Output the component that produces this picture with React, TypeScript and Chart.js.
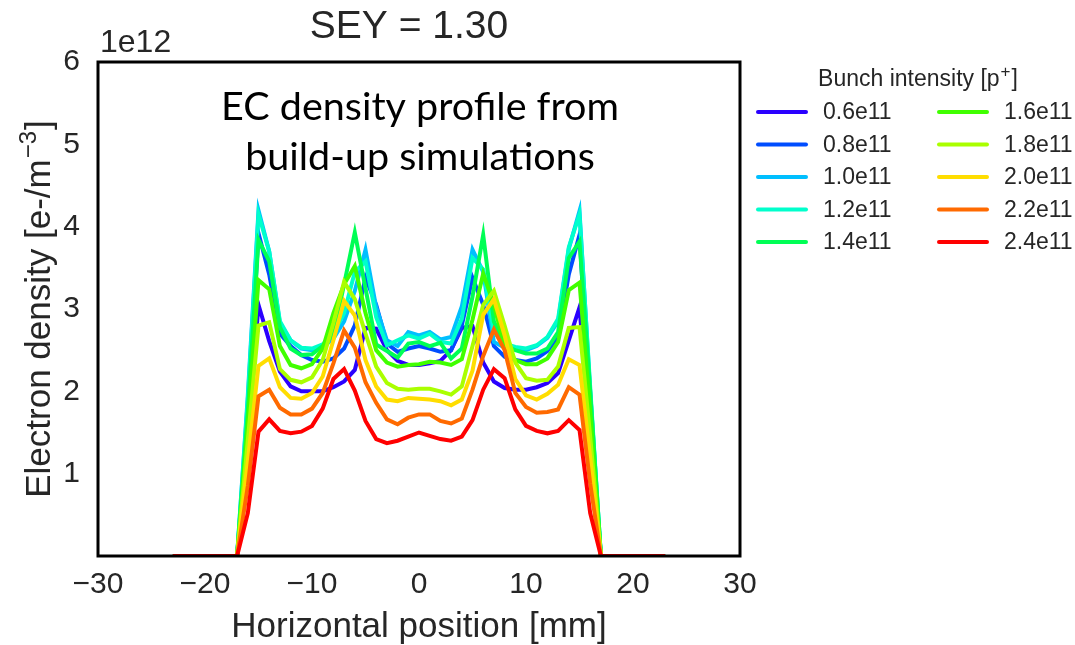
import React, { useEffect, useRef } from "react";
import { Chart, registerables } from "chart.js";

Chart.register(...registerables);

// Horizontal position [mm]
const xPositions = [
  -23, -22, -21, -20, -19, -18, -17, -16, -15, -14, -13, -12, -11, -10, -9, -8,
  -7, -6, -5, -4, -3, -2, -1, 0, 1, 2, 3, 4, 5, 6, 7, 8, 9, 10, 11, 12, 13, 14,
  15, 16, 17, 18, 19, 20, 21, 22, 23,
];

const intensityLabels = [
  "0.6e11", "0.8e11", "1.0e11", "1.2e11", "1.4e11",
  "1.6e11", "1.8e11", "2.0e11", "2.2e11", "2.4e11",
];

const seriesColors = [
  "#2a00ff", "#004dff", "#00bfff", "#00ffcc", "#00ff55",
  "#40ff00", "#aaff00", "#ffdd00", "#ff6a00", "#ff0000",
];

// Electron density, units of 1e12 e-/m^3
const density06 = [
  0, 0, 0, 0, 0, 0, 0, 1.4, 3.05, 2.61, 2.24, 2.06, 2.0, 2.0, 2.0, 2.05,
  2.12, 2.26, 2.77, 2.76, 2.5, 2.37, 2.32, 2.32, 2.34, 2.37, 2.5, 2.77, 2.79, 2.35, 2.12, 2.04,
  2.02, 2.02, 2.05, 2.1, 2.22, 2.62, 3.02, 1.45, 0, 0, 0, 0, 0, 0, 0,
];
const density08 = [
  0, 0, 0, 0, 0, 0, 0, 1.7, 3.92, 3.42, 2.7, 2.55, 2.44, 2.38, 2.36, 2.4,
  2.52, 2.8, 3.38, 3.05, 2.58, 2.48, 2.52, 2.55, 2.52, 2.48, 2.5, 2.8, 3.38, 3.05, 2.55, 2.42,
  2.38, 2.36, 2.4, 2.49, 2.66, 3.42, 3.9, 1.75, 0, 0, 0, 0, 0, 0, 0,
];
const density10 = [
  0, 0, 0, 0, 0, 0, 0, 1.95, 4.2, 3.7, 2.83, 2.62, 2.52, 2.5, 2.54, 2.64,
  2.85, 3.22, 3.72, 3.02, 2.62, 2.55, 2.72, 2.68, 2.72, 2.63, 2.66, 3.03, 3.72, 3.45, 2.6, 2.53,
  2.51, 2.5, 2.55, 2.65, 2.85, 3.73, 4.19, 2.0, 0, 0, 0, 0, 0, 0, 0,
];
const density12 = [
  0, 0, 0, 0, 0, 0, 0, 1.9, 4.15, 3.7, 2.85, 2.62, 2.53, 2.52, 2.57, 2.7,
  2.95, 3.45, 3.58, 2.9, 2.56, 2.62, 2.68, 2.64, 2.7, 2.6, 2.58, 2.88, 3.62, 3.48, 2.72, 2.58,
  2.54, 2.52, 2.56, 2.66, 2.88, 3.75, 4.15, 2.05, 0, 0, 0, 0, 0, 0, 0,
];
const density14 = [
  0, 0, 0, 0, 0, 0, 0, 1.75, 3.84, 3.58, 2.78, 2.52, 2.44, 2.45, 2.55, 2.69,
  3.3, 3.93, 3.25, 2.57, 2.49, 2.41, 2.58, 2.6, 2.55, 2.59, 2.4, 2.52, 3.15, 3.9, 2.85, 2.55,
  2.5, 2.46, 2.46, 2.52, 2.72, 3.62, 3.82, 2.0, 0, 0, 0, 0, 0, 0, 0,
];
const density16 = [
  0, 0, 0, 0, 0, 0, 0, 1.6, 3.35, 3.24, 2.55, 2.32, 2.28, 2.33, 2.52, 2.95,
  3.3, 3.52, 2.95, 2.5, 2.35, 2.3, 2.32, 2.33, 2.36, 2.35, 2.32, 2.39, 2.87, 3.43, 3.05, 2.55,
  2.38, 2.33, 2.33, 2.4, 2.6, 3.23, 3.32, 1.75, 0, 0, 0, 0, 0, 0, 0,
];
const density18 = [
  0, 0, 0, 0, 0, 0, 0, 1.4, 2.8, 2.84, 2.27, 2.14, 2.11, 2.17, 2.38, 2.83,
  3.33, 3.12, 2.7, 2.3, 2.1, 2.03, 2.02, 2.03, 2.03, 2.0, 1.96, 2.06, 2.55, 3.05, 3.22, 2.8,
  2.35, 2.16, 2.13, 2.14, 2.3, 2.77, 2.78, 1.45, 0, 0, 0, 0, 0, 0, 0,
];
const density20 = [
  0, 0, 0, 0, 0, 0, 0, 1.15, 2.31, 2.4, 2.05, 1.92, 1.91, 1.98, 2.18, 2.62,
  3.1, 2.92, 2.38, 2.06, 1.9, 1.88, 1.92, 1.91, 1.9, 1.88, 1.83, 1.9, 2.25, 2.93, 3.12, 2.68,
  2.15, 1.95, 1.9, 1.97, 2.08, 2.39, 2.32, 1.2, 0, 0, 0, 0, 0, 0, 0,
];
const density22 = [
  0, 0, 0, 0, 0, 0, 0, 0.85, 1.94, 2.02, 1.8, 1.72, 1.72, 1.79, 1.98, 2.34,
  2.74, 2.53, 2.11, 1.86, 1.66, 1.6, 1.68, 1.72, 1.72, 1.64, 1.61, 1.67, 2.02, 2.43, 2.75, 2.5,
  1.98, 1.81, 1.74, 1.75, 1.78, 2.05, 1.96, 0.88, 0, 0, 0, 0, 0, 0, 0,
];
const density24 = [
  0, 0, 0, 0, 0, 0, 0, 0.52, 1.51, 1.66, 1.52, 1.49, 1.51, 1.58, 1.79, 2.15,
  2.27, 2.01, 1.64, 1.42, 1.37, 1.4, 1.45, 1.5, 1.46, 1.42, 1.4, 1.45, 1.65, 2.02, 2.27, 2.16,
  1.78, 1.58, 1.52, 1.49, 1.52, 1.65, 1.53, 0.52, 0, 0, 0, 0, 0, 0, 0,
];

const allSeries = [
  density06, density08, density10, density12, density14,
  density16, density18, density20, density22, density24,
];

const xTicks = [-30, -20, -10, 0, 10, 20, 30];
const yTicks = [1, 2, 3, 4, 5, 6];

const chartTitle = "SEY = 1.30";
const offsetText = "1e12";
const annotationLines = ["EC density profile from", "build-up simulations"];
const legendTitleMain = "Bunch intensity [p";
const legendTitleSup = "+";
const legendTitleEnd = "]";
const xTitle = "Horizontal position [mm]";
const yTitleMain = "Electron density [e-/m";
const yTitleSup = "\u22123";
const yTitleEnd = "]";

const AXIS_FONT = "'Liberation Sans', Arial, sans-serif";
const TEXT_COLOR = "#262626";

// draws "main^sup end" centred at (0,0) in the current transform
function drawSupText(ctx: any, main: string, sup: string, end: string, size: number, supSize: number, rise: number) {
  ctx.font = `${size}px ${AXIS_FONT}`;
  const wMain = ctx.measureText(main).width;
  const wEnd = ctx.measureText(end).width;
  ctx.font = `${supSize}px ${AXIS_FONT}`;
  const wSup = ctx.measureText(sup).width;
  const total = wMain + wSup + wEnd + 2;
  let x = -total / 2;
  ctx.textAlign = "left";
  ctx.textBaseline = "alphabetic";
  const base = size * 0.36;
  ctx.font = `${size}px ${AXIS_FONT}`;
  ctx.fillText(main, x, base);
  x += wMain + 1;
  ctx.font = `${supSize}px ${AXIS_FONT}`;
  ctx.fillText(sup, x, base - rise);
  x += wSup + 1;
  ctx.font = `${size}px ${AXIS_FONT}`;
  ctx.fillText(end, x, base);
}

const overlayPlugin = {
  id: "overlay",
  afterDatasetsDraw(chart: any) {
    const { ctx, chartArea } = chart;
    ctx.save();
    ctx.strokeStyle = "#000000";
    ctx.lineWidth = 3;
    ctx.strokeRect(chartArea.left, chartArea.top, chartArea.right - chartArea.left, chartArea.bottom - chartArea.top);
    ctx.restore();
  },
  afterDraw(chart: any) {
    const { ctx, chartArea } = chart;
    ctx.save();
    // title
    ctx.fillStyle = TEXT_COLOR;
    ctx.textAlign = "center";
    ctx.textBaseline = "middle";
    ctx.font = `39px ${AXIS_FONT}`;
    ctx.fillText(chartTitle, 409, 27);
    // offset text
    ctx.textAlign = "left";
    ctx.font = `32px ${AXIS_FONT}`;
    ctx.fillText(offsetText, chartArea.left + 2, 43);
    // annotation
    ctx.fillStyle = "#000000";
    ctx.textAlign = "center";
    ctx.font = `39.5px Lato, 'Open Sans', sans-serif`;
    ctx.fillText(annotationLines[0], 420, 107);
    ctx.fillText(annotationLines[1], 420, 157);
    // y axis title
    ctx.fillStyle = TEXT_COLOR;
    ctx.save();
    ctx.translate(37, (chartArea.top + chartArea.bottom) / 2);
    ctx.rotate(-Math.PI / 2);
    drawSupText(ctx, yTitleMain, yTitleSup, yTitleEnd, 35, 24, 14);
    ctx.restore();
    // legend title
    ctx.save();
    ctx.translate(918, 78);
    drawSupText(ctx, legendTitleMain, legendTitleSup, legendTitleEnd, 23, 17, 9);
    ctx.restore();
    // legend entries
    ctx.font = `23px ${AXIS_FONT}`;
    ctx.textAlign = "left";
    ctx.textBaseline = "middle";
    const colX = [758, 939];
    const textX = [823, 1004];
    for (let i = 0; i < intensityLabels.length; i++) {
      const col = Math.floor(i / 5);
      const row = i % 5;
      const y = 112 + row * 32.5;
      ctx.strokeStyle = seriesColors[i];
      ctx.lineWidth = 4;
      ctx.lineCap = "round";
      ctx.beginPath();
      ctx.moveTo(colX[col], y);
      ctx.lineTo(colX[col] + 48, y);
      ctx.stroke();
      ctx.fillStyle = TEXT_COLOR;
      ctx.fillText(intensityLabels[i], textX[col], y + 1);
    }
    ctx.restore();
  },
};

export default function App() {
  const canvasRef = useRef<HTMLCanvasElement | null>(null);

  useEffect(() => {
    const canvas = canvasRef.current;
    if (!canvas) return;
    const datasets = allSeries.map((series, i) => ({
      label: intensityLabels[i],
      data: xPositions.map((x, j) => ({ x, y: series[j] })),
      borderColor: seriesColors[i],
      backgroundColor: seriesColors[i],
      borderWidth: 4,
      pointRadius: 0,
      tension: 0,
      fill: false,
      order: intensityLabels.length - i,
    }));
    const chart = new Chart(canvas, {
      type: "line",
      data: { datasets },
      options: {
        responsive: false,
        animation: false,
        layout: { padding: { left: 0, top: 62, right: 335, bottom: 0 } },
        plugins: {
          legend: { display: false },
          title: { display: false },
          tooltip: { enabled: false },
        },
        scales: {
          x: {
            type: "linear",
            min: -30,
            max: 30,
            grid: { display: false },
            border: { display: false },
            afterBuildTicks: (scale: any) => {
              scale.ticks = xTicks.map((v) => ({ value: v }));
            },
            afterFit: (scale: any) => {
              scale.height = 89;
            },
            ticks: {
              padding: 3,
              color: TEXT_COLOR,
              font: { family: AXIS_FONT, size: 30 },
              maxRotation: 0,
              callback: (v: any) => (Number(v) < 0 ? "\u2212" + Math.abs(Number(v)) : String(v)),
            },
            title: {
              display: true,
              text: xTitle,
              color: TEXT_COLOR,
              font: { family: AXIS_FONT, size: 35, lineHeight: 1 },
              padding: { top: 0, bottom: 0 },
            },
          },
          y: {
            type: "linear",
            min: 0,
            max: 6,
            grid: { display: false },
            border: { display: false },
            afterBuildTicks: (scale: any) => {
              scale.ticks = yTicks.map((v) => ({ value: v }));
            },
            afterFit: (scale: any) => {
              scale.width = 98;
            },
            ticks: {
              padding: 10,
              color: TEXT_COLOR,
              font: { family: AXIS_FONT, size: 30 },
              callback: (v: any) => String(v),
            },
            title: { display: false },
          },
        },
      },
      plugins: [overlayPlugin],
    });
    return () => chart.destroy();
  }, []);

  return (
    <div style={{ position: "fixed", left: 0, top: 0, width: 1075, height: 645, background: "#ffffff" }}>
      <canvas ref={canvasRef} width={1075} height={645} style={{ display: "block" }} />
    </div>
  );
}
